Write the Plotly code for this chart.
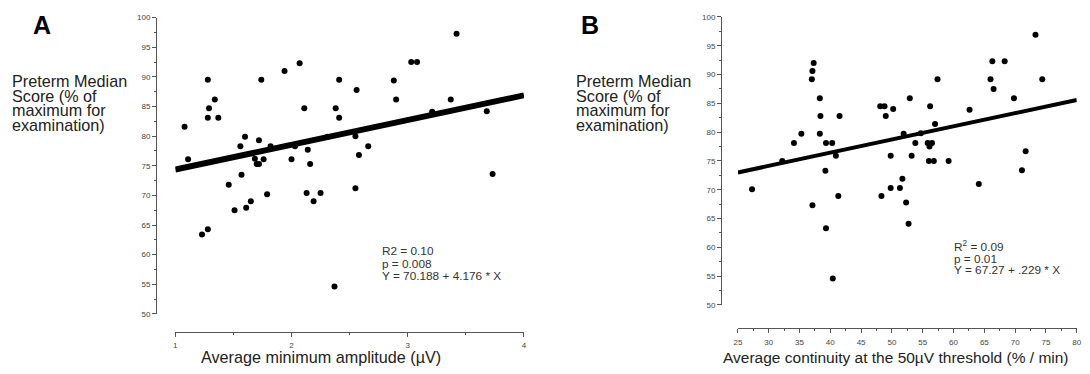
import plotly.graph_objects as go

W, H = 1090, 374

# Panel A data: average minimum amplitude (uV) vs preterm median score
A_x = [1.08, 1.11, 1.28, 1.34, 1.29, 1.28, 1.37, 1.23, 1.28, 1.46, 1.51, 1.57, 1.56,
       1.60, 1.61, 1.65, 1.685, 1.70, 1.72, 1.76, 1.72, 1.74, 1.79, 1.82, 1.94, 2.07,
       2.00, 2.03, 2.11, 2.14, 2.16, 2.13, 2.19, 2.25, 2.31, 2.41, 2.38, 2.41, 2.55,
       2.37, 3.42, 3.03, 3.08, 2.88, 2.56, 2.90, 3.37, 3.21, 3.68, 2.55, 2.66, 2.58, 3.73]
A_y = [81.6, 76.1, 89.5, 86.2, 84.7, 83.1, 83.1, 63.4, 64.3, 71.8, 67.5, 73.5, 78.3,
       79.9, 67.9, 69.0, 76.2, 75.3, 75.3, 76.1, 79.3, 89.5, 70.2, 78.3, 91.0, 92.3,
       76.1, 78.3, 84.7, 77.7, 75.3, 70.4, 69.0, 70.4, 79.9, 89.5, 84.7, 83.1, 71.2,
       54.6, 97.3, 92.5, 92.5, 89.4, 87.8, 86.2, 86.2, 84.1, 84.2, 80.0, 78.3, 76.8, 73.6]
A_intercept, A_slope = 70.188, 4.176
A_xrange = [1, 4]

# Panel B data: average continuity at 50uV threshold (% / min) vs preterm median score
B_x = [32.2, 34.1, 35.3, 37.3, 37.1, 37.0, 38.3, 38.4, 38.3, 39.3, 40.3, 40.9, 39.2,
       41.5, 48.1, 48.8, 49.0, 50.2, 52.9, 56.2, 57.4, 57.0, 62.6, 66.0, 66.3, 68.3,
       66.5, 69.8, 73.3, 74.4, 51.9, 54.7, 53.8, 55.8, 56.5, 56.1, 49.8, 53.2, 56.0,
       56.8, 59.2, 71.7, 71.1, 51.7, 27.3, 37.1, 39.3, 41.3, 40.4, 48.3, 49.8, 51.3,
       52.3, 52.7, 64.1]
B_y = [75.0, 78.1, 79.7, 92.0, 90.6, 89.2, 85.9, 82.8, 79.7, 78.1, 78.1, 75.9, 73.3,
       82.8, 84.5, 84.5, 82.8, 84.0, 85.9, 84.5, 89.2, 81.4, 83.9, 89.2, 92.3, 92.3,
       87.5, 85.9, 96.9, 89.2, 79.7, 79.8, 78.1, 78.1, 78.1, 77.5, 75.9, 75.9, 75.0,
       75.0, 75.0, 76.7, 73.4, 71.9, 70.1, 67.3, 63.3, 68.9, 54.6, 68.9, 70.3, 70.3,
       67.8, 64.1, 71.0]
B_intercept, B_slope = 67.27, 0.229
B_xrange = [25, 80]

Y_range = [50, 100]
y_title_lines = ["Preterm Median", "Score (% of", "maximum for", "examination)"]
A_xtitle = "Average minimum amplitude (\u00b5V)"
B_xtitle = "Average continuity at the 50\u00b5V threshold (% / min)"
A_stats = ["R2 = 0.10", "p = 0.008", "Y = 70.188 + 4.176 * X"]
B_stats = ["R<sup>2</sup> = 0.09", "p = 0.01", "Y = 67.27 + .229 * X"]


def px(x):
    return x / W


def py(y):
    return (H - y) / H


FONT = "Liberation Sans, Arial, sans-serif"

fig = go.Figure()

fig.add_trace(go.Scatter(x=A_x, y=A_y, mode="markers", xaxis="x", yaxis="y",
                         marker=dict(color="black", size=6), cliponaxis=False,
                         showlegend=False))
fig.add_trace(go.Scatter(x=A_xrange, y=[A_intercept + A_slope * v for v in A_xrange],
                         mode="lines", xaxis="x", yaxis="y",
                         line=dict(color="black", width=6), showlegend=False))
fig.add_trace(go.Scatter(x=B_x, y=B_y, mode="markers", xaxis="x2", yaxis="y2",
                         marker=dict(color="black", size=6), cliponaxis=False,
                         showlegend=False))
fig.add_trace(go.Scatter(x=B_xrange, y=[B_intercept + B_slope * v for v in B_xrange],
                         mode="lines", xaxis="x2", yaxis="y2",
                         line=dict(color="black", width=4), showlegend=False))

tickfont = dict(family=FONT, size=8, color="#444")
common = dict(showline=True, linecolor="#555", linewidth=1, ticks="outside",
              ticklen=4, tickcolor="#555", showgrid=False, zeroline=False,
              tickfont=tickfont, anchor="free")
minor = lambda d: dict(dtick=d, ticks="outside", ticklen=2, tickcolor="#555")

fig.update_layout(
    width=W, height=H,
    margin=dict(l=0, r=0, t=0, b=0),
    paper_bgcolor="white", plot_bgcolor="white",
    hovermode=False,
    xaxis=dict(**common, domain=[px(172.7), px(524.3)], range=A_xrange,
               position=py(335.7), dtick=1, tick0=1, ticklabelstandoff=2,
               minor=minor(0.5)),
    yaxis=dict(**common, domain=[py(317.5), py(14)], range=Y_range,
               position=px(153.3), dtick=5, minor=minor(2.5)),
    xaxis2=dict(**common, domain=[px(740), px(1081.7)], range=B_xrange,
                position=py(332), dtick=5, tick0=25, ticklabelstandoff=2,
                minor=minor(2.5)),
    yaxis2=dict(**common, domain=[py(308.3), py(13.3)], range=Y_range,
                position=px(723), dtick=5, minor=minor(2.5)),
)

ann = []
ann.append(dict(text="<b>A</b>", x=px(27), y=py(22), xanchor="left", yanchor="middle",
                font=dict(family=FONT, size=25, color="black")))
ann.append(dict(text="<b>B</b>", x=px(580), y=py(22), xanchor="left", yanchor="middle",
                font=dict(family=FONT, size=25, color="black")))
for xl in (6, 575):
    for i, line in enumerate(y_title_lines):
        ann.append(dict(text=line, x=px(xl), y=py(79 + 15 * i), xanchor="left",
                        yanchor="middle", align="left",
                        font=dict(family=FONT, size=16.2, color="#222")))
ann.append(dict(text=A_xtitle, x=px(319.5), y=py(362), xanchor="center", yanchor="middle",
                font=dict(family=FONT, size=16.2, color="#222")))
ann.append(dict(text=B_xtitle, x=px(899), y=py(362), xanchor="center", yanchor="middle",
                font=dict(family=FONT, size=15.5, color="#222")))
for line, yc in zip(A_stats, [253.5, 266.5, 278.5]):
    ann.append(dict(text=line, x=px(379), y=py(yc), xanchor="left", yanchor="middle",
                    align="left", font=dict(family=FONT, size=11.8, color="#333")))
for line, yc in zip(B_stats, [248, 261, 272.5]):
    ann.append(dict(text=line, x=px(956), y=py(yc), xanchor="left", yanchor="middle",
                    align="left", font=dict(family=FONT, size=11.8, color="#333")))

for a in ann:
    a.update(xref="paper", yref="paper", showarrow=False)
fig.update_layout(annotations=ann)

fig.write_html("out.html", config={"displayModeBar": False},
               post_script="document.body.style.margin='0';document.body.style.padding='0';")
